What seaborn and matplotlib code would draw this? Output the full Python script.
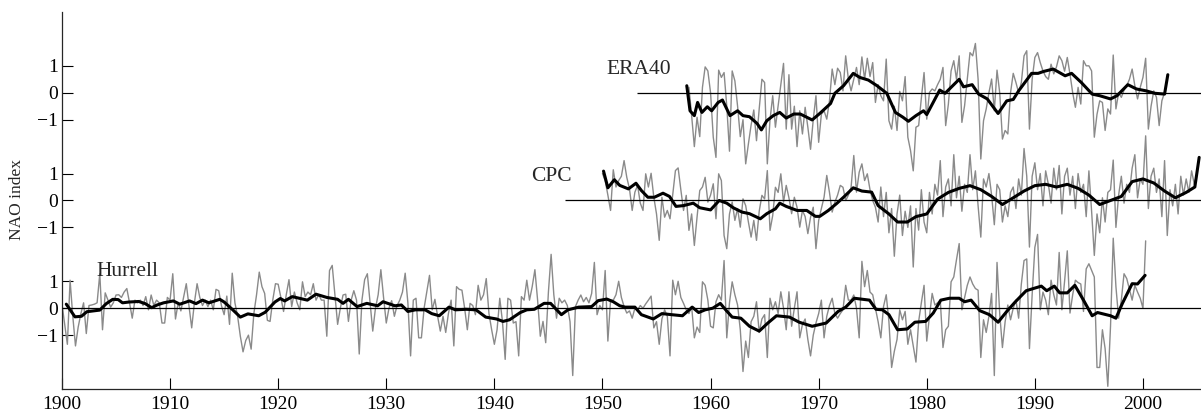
import numpy as np
import pandas as pd
import matplotlib
matplotlib.use("Agg")
import matplotlib.pyplot as plt
import seaborn as sns

# ---------------- data ----------------
# seasonal (quarterly) grey series, first value at the given start year
hurrell_start = 1900.0
hurrell_q = [
    0.15, -0.6, -1.34, 1.04,  -0.3, -1.4, -0.7, -0.2,  0.2, -0.94, 0.1, 0.12,  0.15, 0.2, 1.28, -0.8,
    0.57, 0.3, 0.04, 0.2,  0.49, 0.5, 0.4, 0.6,  0.73, 0.2, -0.37, 0.3,  0.2, 0.3, 0.1, 0.43,
    -0.06, 0.49, 0.1, 0.3,  0.2, -0.55, -0.55, 0.4,  0.3, 1.28, -0.4, 0.2,  -0.1, 0.4, 0.91, 0.1,
    -0.73, 0.2, 0.91, 0.4,  0.1, 0.3, 0.06, 0.3,  -0.06, 0.7, 0.65, 0.1,  -0.24, 0.45, -0.6, 1.3,
    0.2, -0.3, -1.04, -1.62,  -1.2, -1.0, -1.52, -0.2,  0.5, 1.34, 0.8, 0.55,  -0.45, -0.49, 0.3, 0.91,
    0.89, 0.4, -0.12, 0.5,  1.06, 0.06, 0.6, 0.2,  -0.06, 0.98, 0.43, 0.6,  0.5, 0.91, 0.3, 0.5,
    0.3, 0.3, -1.04, 1.4,  1.59, 0.5, -0.6, 0.0,  0.49, 0.52, -0.49, 0.3,  0.65, 0.3, -1.7, 0.3,
    1.06, 1.28, 0.2, -0.85,  0.0, 0.5, 1.43, 0.4,  -0.55, 0.0, 0.28, -0.3,  0.1, 0.3, 0.6, 1.3,
    0.2, -1.77, 0.3, 0.37,  -1.1, -1.1, 0.0, 0.6,  1.22, -0.06, 0.33, -0.3,  -0.85, -0.3, -0.9, -0.2,
    0.3, -1.4, 0.8, 0.7,  0.67, 0.0, -0.8, 0.18,  0.1, -0.24, 0.85, 0.3,  0.5, 1.1, -0.2, -0.8,
    -1.34, -0.8, 0.37, -0.5,  -1.9, 0.37, 0.3, -0.55,  -0.5, -1.77, 0.43, 0.3,  1.04, 0.3, 0.8, 1.43,
    0.3, -1.04, -0.49, -1.28,  0.6, 2.0, 0.5, -0.37,  0.37, 0.2, 0.3, 0.1,  -0.5, -2.5, 0.06, 0.3,
    0.49, 0.24, 0.4, 0.2,  0.55, 1.7, -0.24, 0.1,  -0.06, 1.4, -1.22, 0.3,  0.3, 0.5, 1.0, 0.4,
    0.06, -0.18, -0.1, -0.37,  0.0, -0.06, 0.1, 0.0,  0.16, 0.3, 0.45, -0.73,  -0.5, -1.34, -0.4, -0.06,
    -0.3, -1.77, 1.04, 0.5,  1.0, 0.4, 0.18, -0.06,  -0.2, 0.06, -1.1, -0.7,  -0.9, 0.98, 0.85, 0.3,
    -0.67, -0.73, 0.24, 0.5,  0.3, 1.77, -1.1, 0.2,  0.98, 0.5, 0.12, -0.8,  -2.35, -1.22, -1.83, -0.5,
    -0.3, 0.24, -0.9, -0.4,  -0.24, -1.83, 0.37, -0.06,  0.24, -0.2, 0.61, 0.0,  -0.8, 0.61, -0.67, 0.0,
    0.61, -1.1, -0.6, -0.4,  -1.16, -1.77, -1.0, -0.55,  -0.2, 0.3, -1.1, -0.3,  0.1, 0.37, -0.2, -0.37,
    -0.2, -0.06, 0.85, 0.3,  0.3, 0.49, 0.0, -1.1,  1.74, 0.8, 1.4, 0.6,  0.5, 0.0, -0.5, -1.1,
    0.06, 0.5, -0.5, -2.2,  -1.6, -1.16, -0.06, -0.43,  -0.12, -1.34, -0.8, -1.4,  -2.0, -0.49, 0.2, 0.85,
    -1.22, -0.3, 0.55, 0.12,  0.2, 0.3, -1.46, -0.8,  -0.67, 0.98, 1.16, 1.8,  2.4, -0.06, 0.4, 0.85,
    1.16, 0.9, 0.73, 0.67,  -1.83, -0.43, -0.9, -0.3,  0.55, -2.5, 1.7, -0.2,  -1.46, -0.5, 0.12, -0.43,
    0.0, 0.3, -0.37, 0.9,  1.77, 1.83, -1.5, 0.5,  2.26, 2.74, -0.06, 0.6,  0.3, -0.24, 1.04, 0.5,
    0.12, 2.07, -0.06, 1.0,  2.13, -0.18, 0.5, 1.04,  0.95, 0.9, -0.12, 1.46,  1.65, 1.4, 1.16, -2.2,
    -2.2, -0.8, -1.5, -2.9,  -0.67, 2.6, 0.8, -0.37,  0.3, 1.28, 1.1, 0.7,  0.3, 0.85, 0.6, 0.37,
    0.0, 2.5,
]

cpc_start = 1950.0
cpc_q = [
    1.0, 0.74, 0.2, -0.37,  1.14, 0.5, 0.74, 0.9,  1.48, 0.86, 0.43, -0.37,  0.31, 0.56, -0.1, -0.37,
    0.99, 0.5, 1.01, 0.12,  -0.5, -1.48, 0.12, -0.62,  -0.37, -0.68, 0.2, 1.11,  1.21, 0.4, -0.37, 0.19,
    -1.11, -0.5, -1.67, -0.62,  0.37, 0.5, 0.86, -0.06,  0.2, 0.62, -0.68, 0.99,  0.74, -1.3, -1.79, -0.5,
    -0.06, -0.74, -0.3, -0.99,  0.06, -0.19, -0.8, -1.36,  -0.74, -1.48, -0.4, 0.19,  0.06, 1.11, -1.11, -0.56,
    0.49, 0.3, 0.99, -0.06,  0.56, 0.1, -0.49, 0.12,  -0.25, -0.99, -0.37, -0.6,  -1.23, -0.62, -0.25, -1.79,
    -0.74, -0.3, 0.12, 0.93,  0.3, -0.43, -0.06, 0.2,  0.56, 0.49, 0.0, 0.2,  0.49, 1.67, 0.31, 1.05,
    1.36, 0.74, 0.99, 0.4,  0.0, -0.25, -0.8, 0.5,  -0.6, 0.3, -1.2, -0.3,  -2.07, -0.5, 0.2, -1.3,
    -0.4, -1.0, -0.2, -2.47,  -0.3, -1.1, 0.4, -0.8,  -1.2, 0.3, -0.5, 0.6,  0.2, 1.48, -0.6, 0.5,
    0.8, -0.2, 1.7, 0.1,  0.9, -0.4, 0.6, 0.3,  1.7, 0.4, 1.1, -0.2,  -1.36, 0.8, 0.5, 1.0,
    0.2, -0.9, 0.6, 0.4,  -0.8, -0.2, -0.6, 0.3,  0.5, -0.3, 0.8, 0.2,  1.93, 0.9, -1.73, 0.9,
    1.4, 0.4, 1.0, -0.2,  1.1, 0.6, -0.1, 1.2,  0.4, 1.3, -0.5, 0.9,  1.2, 0.2, 0.9, -0.3,
    1.0, 0.3, 0.6, -0.6,  1.1, -0.4, -2.04, -0.5,  -1.2, 0.1, -0.8, 0.3,  0.4, 1.5, -1.0, 0.2,
    0.9, -0.1, 0.6, 0.3,  1.2, 1.7, 0.1, 0.8,  0.6, 2.4, -0.3, 0.9,  1.2, 0.3, 0.8, -0.6,
    1.48, -1.3, 0.4, -0.2,  0.6, -0.5, 0.9, 0.2,  0.8, 0.3, 1.1, 0.6,  1.0,
]

era40_start = 1958.0
era40_q = [
    0.2, -0.85, -2.0, -0.91,  -1.63, 0.2, 0.96, 0.81,  0.0, -1.65, -2.4, 0.84,  0.57, 0.75, -0.5, -2.17,
    0.81, 0.44, -0.5, -1.63,  -1.0, -2.64, -1.9, -1.2,  -0.64, -1.78, -0.6, 0.5,  0.38, -2.64, -1.0, -0.11,
    -1.28, -0.5, 0.3, 1.09,  -1.35, 0.67, -1.35, -0.5,  -2.0, -0.67, -1.53, -0.54,  -1.28, -2.1, -1.0, -0.11,
    -1.84, -0.8, -0.67, -0.98,  -0.3, 0.88, 0.3, 0.91,  0.75, 0.07, 1.37, 0.5,  0.07, 0.5, 0.94, 0.3,
    1.33, 0.5, 1.28, 0.6,  1.12, -0.36, 0.3, -0.11,  -0.3, 1.25, -1.04, -1.35,  -0.5, -1.4, 0.05, -0.3,
    0.6, -1.65, -2.15, -2.9,  -1.28, -1.22, -0.2, 0.75,  -0.98, 0.01, 0.14, 0.07,  0.3, 0.5, 0.94, -1.22,
    -0.42, 0.81, 1.19, 0.5,  1.37, -1.1, -0.48, 0.5,  1.49, 1.37, 1.83, 0.5,  -2.46, -1.04, -0.6, 0.0,
    0.51, -0.67, 0.84, 0.0,  -1.72, -1.4, -1.53, 0.0,  0.72, 0.38, 0.0, 0.38,  1.37, 1.56, -1.35, 0.5,
    1.31, 1.49, 1.12, 0.81,  0.6, 0.5, 1.06, 0.7,  0.96, 1.37, 1.19, 0.8,  1.31, 0.69, 0.0, -0.54,
    0.2, -0.42, 1.19, 1.0,  1.0, 0.81, -1.65, -0.8,  -0.3, -0.36, -1.4, -0.6,  -0.79, 1.4, -0.6, 0.0,
    -0.17, 0.1, 0.26, 0.5,  0.88, 0.26, -0.23, 0.2,  0.57, 1.28, -1.35, -0.5,  0.07, -0.17, -1.22, -0.3,
    0.01,
]

# smoothed (black) curves: times and values
hurrell_sm_t = [1900.4, 1901.2, 1901.8, 1902.3, 1902.9, 1903.5, 1904.1, 1904.7, 1905.2, 1905.6, 1906.2, 1907.1,
                1907.7, 1908.3, 1908.8, 1909.4, 1910.3, 1910.9, 1911.8, 1912.4, 1913.0, 1913.6, 1914.6, 1915.0,
                1915.8, 1916.5, 1917.2, 1918.2, 1918.8, 1919.7, 1920.2, 1920.6, 1921.3, 1922.7, 1923.5, 1924.5,
                1925.5, 1926.0, 1926.5, 1927.3, 1928.2, 1929.2, 1929.7, 1930.8, 1931.4, 1932.0, 1932.7, 1933.6,
                1934.2, 1934.9, 1935.8, 1936.4, 1937.4, 1938.3, 1939.2, 1940.2, 1940.8, 1941.4, 1942.4, 1943.0,
                1943.7, 1944.6, 1945.2, 1946.2, 1946.8, 1947.8, 1949.0, 1949.6, 1950.4, 1951.0, 1951.6, 1952.1,
                1953.0, 1953.6, 1954.7, 1955.5, 1956.4, 1957.4, 1958.3, 1958.9, 1959.5, 1960.2, 1960.9, 1961.4,
                1962.0, 1962.8, 1963.6, 1964.5, 1965.3, 1966.1, 1967.3, 1968.2, 1969.4, 1970.7, 1971.8, 1972.5,
                1973.3, 1974.7, 1975.3, 1975.9, 1976.5, 1977.3, 1978.2, 1978.9, 1979.9, 1980.6, 1981.3, 1982.1,
                1983.0, 1983.5, 1984.1, 1984.9, 1985.8, 1986.6, 1987.4, 1988.2, 1989.2, 1990.6, 1991.1, 1991.8,
                1992.3, 1993.0, 1993.7, 1994.5, 1995.3, 1995.8, 1997.0, 1997.5, 1998.1, 1999.0, 1999.5, 2000.2]
hurrell_sm_v = [0.15, -0.32, -0.3, -0.13, -0.1, -0.07, 0.17, 0.33, 0.32, 0.2, 0.23, 0.25,
                0.17, 0.02, 0.12, 0.2, 0.27, 0.15, 0.27, 0.17, 0.3, 0.2, 0.33, 0.23,
                -0.06, -0.33, -0.21, -0.28, -0.15, 0.23, 0.36, 0.27, 0.43, 0.3, 0.52, 0.4,
                0.33, 0.18, 0.33, 0.06, 0.18, 0.09, 0.24, 0.09, 0.12, -0.12, -0.06, -0.06,
                -0.2, -0.28, 0.04, -0.06, -0.04, -0.06, -0.33, -0.4, -0.49, -0.43, -0.16, -0.06,
                -0.04, 0.18, 0.18, -0.24, -0.06, 0.04, 0.06, 0.28, 0.34, 0.24, 0.09, 0.04,
                0.04, -0.24, -0.4, -0.2, -0.24, -0.28, 0.04, -0.16, -0.06, 0.0, 0.18, -0.06,
                -0.33, -0.37, -0.67, -0.85, -0.55, -0.28, -0.33, -0.52, -0.67, -0.55, -0.12, 0.04,
                0.37, 0.3, -0.04, -0.06, -0.24, -0.8, -0.77, -0.52, -0.49, -0.18, 0.3, 0.37,
                0.37, 0.24, 0.3, -0.09, -0.24, -0.52, -0.12, 0.24, 0.65, 0.82, 0.65, 0.82,
                0.57, 0.57, 0.85, 0.3, -0.28, -0.16, -0.28, -0.37, 0.18, 0.91, 0.9, 1.22]

cpc_sm_t = [1950.1, 1950.5, 1951.1, 1951.6, 1952.4, 1953.1, 1953.6, 1954.2, 1954.8, 1955.6, 1956.2, 1956.8,
            1957.5, 1958.4, 1959.0, 1960.0, 1960.8, 1961.5, 1962.1, 1962.9, 1963.6, 1964.6, 1965.2, 1966.0,
            1966.4, 1967.0, 1968.0, 1968.9, 1969.7, 1970.1, 1970.9, 1971.7, 1972.3, 1973.2, 1974.0, 1974.9,
            1975.5, 1976.5, 1977.3, 1978.2, 1979.0, 1980.0, 1981.0, 1982.0, 1983.0, 1984.0, 1985.0, 1986.0,
            1987.0, 1988.0, 1989.0, 1990.0, 1991.0, 1992.0, 1993.0, 1994.0, 1995.0, 1996.0, 1997.0, 1998.0,
            1999.0, 2000.0, 2001.0, 2002.0, 2003.0, 2004.0, 2004.8, 2005.2]
cpc_sm_v = [1.09, 0.47, 0.77, 0.56, 0.43, 0.64, 0.37, 0.12, 0.12, 0.27, 0.15, -0.22,
            -0.19, -0.1, -0.27, -0.35, 0.0, -0.1, -0.27, -0.43, -0.49, -0.68, -0.49, -0.31,
            -0.1, -0.22, -0.37, -0.37, -0.59, -0.59, -0.37, -0.1, 0.12, 0.47, 0.35, 0.31,
            -0.19, -0.5, -0.8, -0.8, -0.6, -0.5, 0.05, 0.3, 0.45, 0.55, 0.4, 0.15,
            -0.15, 0.1, 0.35, 0.55, 0.6, 0.5, 0.6, 0.45, 0.2, -0.15, 0.0, 0.15,
            0.7, 0.8, 0.65, 0.35, 0.1, 0.3, 0.5, 1.6]

era40_sm_t = [1957.8, 1958.1, 1958.5, 1958.8, 1959.2, 1959.7, 1960.1, 1960.7, 1961.1, 1961.8, 1962.5, 1963.0,
              1963.6, 1964.3, 1964.7, 1965.2, 1965.8, 1966.4, 1967.0, 1967.7, 1968.3, 1969.4, 1970.1, 1971.1,
              1971.5, 1972.3, 1973.2, 1973.8, 1974.6, 1975.4, 1976.3, 1977.1, 1977.8, 1978.3, 1979.0, 1979.7,
              1980.0, 1981.2, 1981.7, 1983.0, 1983.4, 1984.2, 1984.8, 1985.6, 1986.6, 1987.4, 1988.0, 1988.5,
              1989.7, 1990.3, 1990.8, 1991.7, 1992.8, 1993.4, 1994.3, 1995.3, 1996.0, 1997.0, 1997.6, 1998.6,
              1999.4, 2000.3, 2001.1, 2002.0, 2002.3]
era40_sm_v = [0.26, -0.67, -0.85, -0.36, -0.73, -0.52, -0.67, -0.36, -0.27, -0.85, -0.67, -0.85,
              -0.89, -1.14, -1.38, -1.04, -0.85, -0.73, -0.94, -0.79, -0.79, -1.01, -0.77, -0.4,
              -0.02, 0.26, 0.72, 0.57, 0.47, 0.26, -0.02, -0.73, -0.91, -1.06, -0.85, -0.67,
              -0.81, 0.1, -0.02, 0.5, 0.22, 0.3, -0.05, -0.23, -0.77, -0.3, -0.25, 0.07,
              0.72, 0.72, 0.79, 0.88, 0.63, 0.72, 0.38, -0.05, -0.11, -0.23, -0.11, 0.3,
              0.14, 0.07, -0.02, -0.05, 0.67]

series_names = ["Hurrell", "CPC", "ERA40"]
series_offsets = [0, 4, 8]
zero_line_start = [1900.0, 1946.5, 1953.2]
label_pos = [(1903.2, 1.2, "left"), (1947.2, 0.71, "right"), (1956.3, 0.71, "right")]
x_ticks = list(range(1900, 2001, 10))
y_tick_vals = [-1, 0, 1]
y_tick_labels = ["\u22121", "0", "1"]

# ---------------- plotting ----------------
sns.set_style("ticks")
plt.rcParams["font.family"] = ["Liberation Serif", "DejaVu Serif"]
plt.rcParams["axes.linewidth"] = 0.9

fig, ax = plt.subplots(figsize=(12.01, 4.12), dpi=100)
fig.subplots_adjust(left=0.0516, right=1.0, bottom=0.0558, top=0.971)

XMAX = 2005.37
grey_sets = [(hurrell_start, hurrell_q), (cpc_start, cpc_q), (era40_start, era40_q)]
smooth_sets = [(hurrell_sm_t, hurrell_sm_v), (cpc_sm_t, cpc_sm_v), (era40_sm_t, era40_sm_v)]

for name, off, (st, q), (smt, smv), z0, (lx, ly, lha) in zip(
        series_names, series_offsets, grey_sets, smooth_sets, zero_line_start, label_pos):
    gdf = pd.DataFrame({"t": st + 0.25 * np.arange(len(q)), "v": np.array(q) + off})
    sns.lineplot(data=gdf, x="t", y="v", ax=ax, color="#8a8a8a", lw=1.0,
                 estimator=None, sort=False, zorder=2)
    ax.hlines(off, z0, XMAX, color="black", lw=0.9, zorder=3)
    sdf = pd.DataFrame({"t": smt, "v": np.array(smv) + off})
    sns.lineplot(data=sdf, x="t", y="v", ax=ax, color="black", lw=2.2,
                 estimator=None, sort=False, zorder=4)
    ax.text(lx, ly + off, name, ha=lha, va="baseline", fontsize=15.5)

ax.set_xlim(1900, XMAX)
ax.set_ylim(-3, 11)
ax.set_xticks(x_ticks)
ax.set_xticklabels([str(t) for t in x_ticks])
yt, yl = [], []
for off in series_offsets:
    yt += [v + off for v in y_tick_vals]
    yl += y_tick_labels
ax.set_yticks(yt)
ax.set_yticklabels(yl)
ax.set_xlabel("")
ax.set_ylabel("")
ax.tick_params(axis="both", direction="in", length=8, width=0.8, labelsize=14, colors="black")
ax.tick_params(axis="x", pad=5)
ax.tick_params(axis="y", pad=3)
sns.despine(ax=ax, top=True, right=True)
fig.text(0.0145, 0.515, "NAO index", rotation=90, ha="center", va="center", fontsize=12.5)

fig.savefig("out.png", dpi=100)
